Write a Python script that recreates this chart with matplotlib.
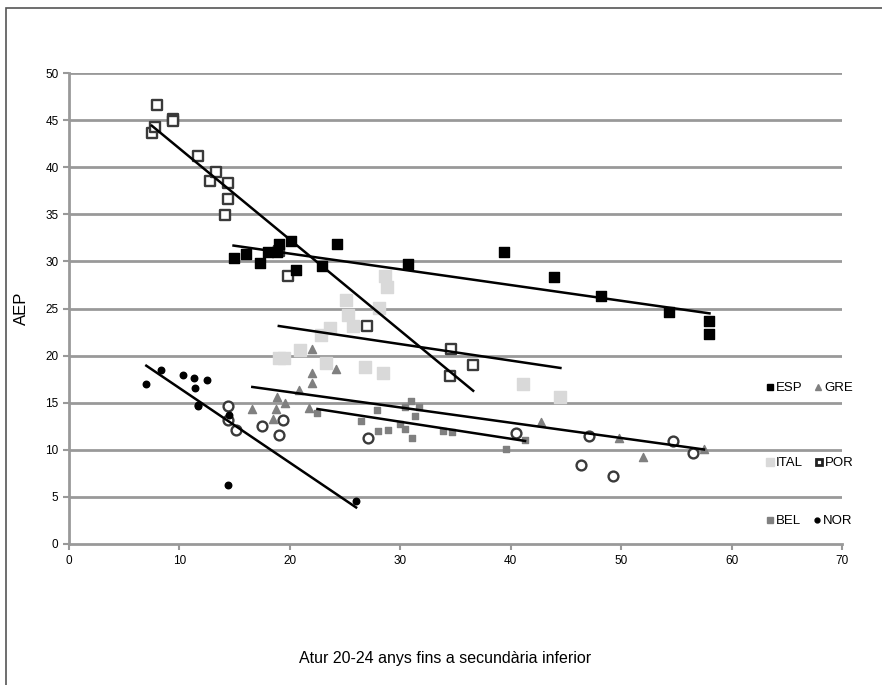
import matplotlib
matplotlib.use('Agg')
import matplotlib.pyplot as plt
from matplotlib.patches import Rectangle
from matplotlib.lines import Line2D
import numpy as np

plt.rcParams['font.family'] = ['Liberation Sans', 'DejaVu Sans']

# data (x = atur 20-24, y = AEP)
esp_x = [14.9, 16.0, 17.3, 18.0, 18.8, 19.0, 20.1, 20.6, 22.9, 24.3, 30.7, 39.4, 43.9, 48.2, 54.3, 58.0, 58.0]
esp_y = [30.4, 30.8, 29.8, 31.0, 31.0, 31.8, 32.2, 29.1, 29.5, 31.8, 29.7, 31.0, 28.3, 26.3, 24.6, 23.7, 22.3]

gre_x = [16.6, 18.5, 18.7, 18.8, 19.6, 20.8, 21.7, 22.0, 22.0, 22.0, 24.2, 42.7, 49.8, 52.0, 57.5]
gre_y = [14.3, 13.3, 14.3, 15.6, 15.0, 16.3, 14.4, 17.1, 18.2, 20.7, 18.6, 12.9, 11.2, 9.2, 10.1]

ital_x = [19.0, 19.5, 20.9, 22.8, 23.3, 23.6, 25.1, 25.3, 25.7, 26.8, 28.1, 28.4, 28.6, 28.8, 41.1, 44.5]
ital_y = [19.7, 19.7, 20.6, 22.2, 19.2, 22.9, 25.9, 24.3, 23.1, 18.8, 25.1, 18.2, 28.4, 27.3, 17.0, 15.6]

por_x = [7.5, 7.8, 8.0, 9.4, 9.4, 11.7, 12.8, 13.3, 14.1, 14.4, 14.4, 19.0, 19.8, 27.0, 34.5, 34.6, 36.6]
por_y = [43.6, 44.3, 46.6, 45.1, 44.9, 41.2, 38.5, 39.5, 34.9, 38.3, 36.6, 31.1, 28.4, 23.1, 17.8, 20.7, 19.0]

bel_x = [22.5, 26.4, 27.9, 28.0, 28.9, 30.0, 30.4, 30.4, 31.0, 31.1, 31.3, 31.7, 33.9, 34.7, 39.6, 41.3]
bel_y = [13.9, 13.1, 14.2, 12.0, 12.1, 12.7, 14.5, 12.2, 15.2, 11.2, 13.6, 14.5, 12.0, 11.9, 10.1, 11.0]

nor_x = [7.0, 8.3, 10.3, 11.35, 11.4, 12.5, 11.7, 11.7, 14.5, 14.4, 26.0]
nor_y = [17.0, 18.5, 17.9, 17.6, 16.6, 17.4, 14.8, 14.6, 13.7, 6.3, 4.6]

# open circles: no legend entry and no trend line in the original
oc_x = [14.4, 14.4, 15.1, 17.5, 19.0, 19.4, 27.1, 40.5, 46.4, 47.1, 49.3, 54.7, 56.5]
oc_y = [14.65, 13.2, 12.1, 12.5, 11.6, 13.2, 11.3, 11.75, 8.4, 11.5, 7.2, 10.9, 9.7]

fig = plt.figure(figsize=(8.82, 6.85), dpi=100)
ax = fig.add_axes([69/882, 1-544/685, (842-69)/882, (544-73)/685])

# outer frame (runs off the right and bottom edge)
fig.patches.append(Rectangle((6/882, -0.1), 1.2, 1.1 - 8/685, transform=fig.transFigure,
                             fill=False, edgecolor='#555555', lw=1.2, zorder=0))

for yv in range(5, 55, 5):
    ax.axhline(yv, color='#999999', lw=2.0, zorder=0)

ax.scatter(oc_x, oc_y, s=50, marker='o', facecolor='white', edgecolor='#3a3a3a', linewidths=1.7, zorder=3)
ax.scatter(bel_x, bel_y, s=24, marker='s', color='#808080', zorder=3)
ax.scatter(gre_x, gre_y, s=34, marker='^', color='#808080', zorder=3)
ax.scatter(ital_x, ital_y, s=64, marker='s', color='#d9d9d9', zorder=3)
ax.scatter(por_x, por_y, s=50, marker='s', facecolor='white', edgecolor='#3a3a3a', linewidths=1.7, zorder=3)
ax.scatter(nor_x, nor_y, s=22, marker='o', color='black', zorder=3)
ax.scatter(esp_x, esp_y, s=50, marker='s', color='black', zorder=3)

# linear trend lines
for xs, ys in [(esp_x, esp_y), (gre_x, gre_y), (ital_x, ital_y),
               (por_x, por_y), (bel_x, bel_y), (nor_x, nor_y)]:
    k, b = np.polyfit(xs, ys, 1)
    xx = np.array([min(xs), max(xs)])
    ax.plot(xx, k*xx + b, color='black', lw=1.8, zorder=4)

ax.set_xlim(0, 70)
ax.set_ylim(0, 50)
ax.set_xticks(range(0, 80, 10))
ax.set_yticks(range(0, 55, 5))
for s in ['top', 'right']:
    ax.spines[s].set_visible(False)
for s in ['left', 'bottom']:
    ax.spines[s].set_color('#999999')
    ax.spines[s].set_linewidth(2.0)
ax.tick_params(axis='both', colors='#999999', length=4, width=1.5, labelcolor='black', labelsize=8.5)
ax.tick_params(axis='x', pad=4)

ax.set_ylabel('AEP', fontsize=12, labelpad=12)
fig.text(445/882, 1-658/685, 'Atur 20-24 anys fins a secundària inferior', fontsize=11.5,
         ha='center', va='center')

# legend in three rows, like the original
rows = [
    ([Line2D([], [], ls='none', marker='s', color='black', ms=4),
      Line2D([], [], ls='none', marker='^', color='#808080', ms=4)], ['ESP', 'GRE'], 388),
    ([Line2D([], [], ls='none', marker='s', color='#d9d9d9', ms=6),
      Line2D([], [], ls='none', marker='s', mfc='white', mec='#222222', mew=2, ms=5)], ['ITAL', 'POR'], 463),
    ([Line2D([], [], ls='none', marker='s', color='#808080', ms=4),
      Line2D([], [], ls='none', marker='o', color='black', ms=3.5)], ['BEL', 'NOR'], 521),
]
for hs, labs, ypix in rows:
    fig.legend(hs, labs, ncol=2, loc='center left', bbox_to_anchor=(766/882, 1-ypix/685),
               frameon=False, fontsize=9.5, handlelength=0.6, handletextpad=0.15,
               columnspacing=0.9, borderpad=0, borderaxespad=0)

fig.savefig('out.png', dpi=100)
